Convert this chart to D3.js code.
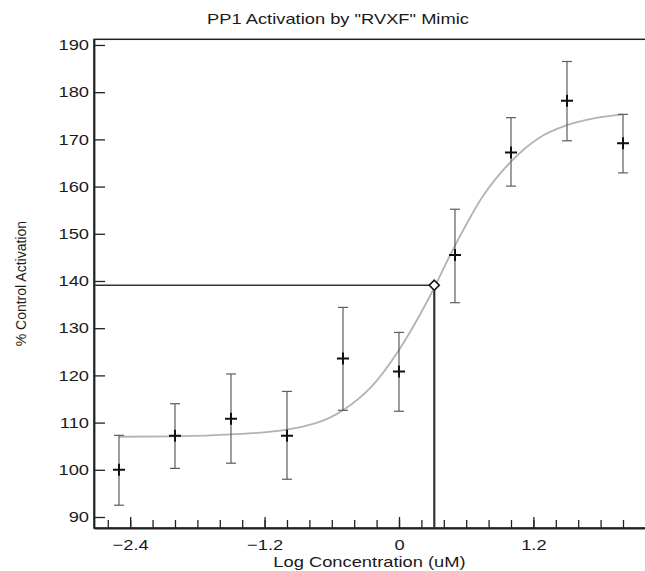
<!DOCTYPE html>
<html>
<head>
<meta charset="utf-8">
<script src="https://cdn.jsdelivr.net/npm/d3@7"></script>
<style>
    body { margin: 0; background: #fff; }
    text { font-family: "Liberation Sans", Arial, sans-serif; fill: #1a1a1a; }
</style>
</head>
<body>
<div id="graph"></div>
<script>
// data
const logConc = [-2.5, -2.0, -1.5, -1.0, -0.5, 0, 0.5, 1.0, 1.5, 2.0];
const activation = [100.0, 107.2, 110.8, 107.2, 123.6, 120.8, 145.5, 167.2, 178.2, 169.2];
const errUpper = [107.3, 114.0, 120.3, 116.6, 134.4, 129.1, 155.2, 174.6, 186.5, 175.3];
const errLower = [92.5, 100.3, 101.4, 98.0, 112.6, 112.4, 135.4, 160.1, 169.7, 162.9];

// fitted curve as drawn in the picture
const fitX = [-2.5, -2.0, -1.5, -1.0, -0.5, -0.25, 0, 0.25, 0.5, 0.75, 1.0, 1.25, 1.5, 1.75, 2.0];
const fitY = [107.0, 107.1, 107.5, 108.5, 112.6, 117.5, 125.4, 135.6, 147.5, 158.0, 165.3, 170.3, 173.0, 174.5, 175.3];

// marked point (EC50)
const ec50X = 0.315;
const ec50Y = 139.1;

const xTickLabels = [-2.4, -1.2, 0, 1.2];
const yTickLabels = [90, 100, 110, 120, 130, 140, 150, 160, 170, 180, 190];

const titleText = 'PP1 Activation by "RVXF" Mimic';
const xTitle = "Log Concentration (uM)";
const yTitle = "% Control Activation";

const width = 645;
const height = 571;
const margin = {top: 39.3, bottom: 43, left: 94, right: -5};
const stretchK = 1.22; // the reference text is a bit wide

const svg = d3.select("#graph")
    .append("svg")
    .attr("width", width)
    .attr("height", height);

const x = d3.scaleLinear()
    .domain([-2.723, 2.241])
    .range([margin.left, width - margin.right]);

const y = d3.scaleLinear()
    .domain([87.67, 191.2])
    .range([height - margin.bottom, margin.top]);

function stretch(sel, k) {
    sel.each(function () {
        const len = this.getComputedTextLength();
        d3.select(this)
            .attr("textLength", len * k)
            .attr("lengthAdjust", "spacingAndGlyphs");
    });
}

// frame
svg.append("rect")
    .attr("x", x.range()[0])
    .attr("y", y.range()[1])
    .attr("width", x.range()[1] - x.range()[0])
    .attr("height", y.range()[0] - y.range()[1])
    .attr("fill", "none")
    .attr("stroke", "#222")
    .attr("stroke-width", 1.5);

// minor x ticks every 0.2
const xMinor = d3.range(-26, 23, 2).map(d => d / 10);
svg.append("g")
    .attr("transform", `translate(0, ${y.range()[0]})`)
    .call(d3.axisBottom(x).tickValues(xMinor).tickSize(-8).tickSizeOuter(0).tickFormat(""))
    .call(g => g.select(".domain").remove())
    .call(g => g.selectAll("line").attr("stroke", "#222").attr("stroke-width", 1.3));

// x axis
const xAxis = svg.append("g")
    .attr("transform", `translate(0, ${y.range()[0]})`)
    .call(d3.axisBottom(x).tickValues(xTickLabels).tickSize(-11).tickSizeOuter(0).tickPadding(11)
        .tickFormat(d => d3.format("")(d)));
xAxis.select(".domain").attr("stroke", "#222").attr("stroke-width", 1.8);
xAxis.selectAll("line").attr("stroke", "#222").attr("stroke-width", 1.3);
xAxis.selectAll("text").attr("font-size", "15px").call(stretch, stretchK);

// y axis
const yAxis = svg.append("g")
    .attr("transform", `translate(${x.range()[0]}, 0)`)
    .call(d3.axisLeft(y).tickValues(yTickLabels).tickSize(-11).tickSizeOuter(0).tickPadding(5));
yAxis.select(".domain").attr("stroke", "#222").attr("stroke-width", 1.8);
yAxis.selectAll("line").attr("stroke", "#222").attr("stroke-width", 1.3);
yAxis.selectAll("text").attr("font-size", "15px").call(stretch, stretchK);

// EC50 guide lines
svg.append("line")
    .attr("x1", x.range()[0]).attr("x2", x(ec50X))
    .attr("y1", y(ec50Y)).attr("y2", y(ec50Y))
    .attr("stroke", "#333").attr("stroke-width", 1.5);
svg.append("line")
    .attr("x1", x(ec50X)).attr("x2", x(ec50X))
    .attr("y1", y(ec50Y)).attr("y2", y.range()[0])
    .attr("stroke", "#333").attr("stroke-width", 2.2);

// fitted curve
const fitData = fitX.map((d, i) => ({x: d, y: fitY[i]}));
svg.append("path")
    .datum(fitData)
    .attr("fill", "none")
    .attr("stroke", "#b3b3b3")
    .attr("stroke-width", 1.8)
    .attr("d", d3.line().x(d => x(d.x)).y(d => y(d.y)).curve(d3.curveMonotoneX));

// error bars
const points = logConc.map((d, i) => ({x: d, y: activation[i], hi: errUpper[i], lo: errLower[i]}));
const capW = 5;
const bars = svg.append("g")
    .attr("stroke", "#5c5c5c")
    .attr("stroke-width", 1.2)
    .selectAll("g")
    .data(points)
    .join("g");
bars.append("line")
    .attr("x1", d => x(d.x)).attr("x2", d => x(d.x))
    .attr("y1", d => y(d.hi)).attr("y2", d => y(d.lo));
bars.append("line")
    .attr("x1", d => x(d.x) - capW).attr("x2", d => x(d.x) + capW)
    .attr("y1", d => y(d.hi)).attr("y2", d => y(d.hi));
bars.append("line")
    .attr("x1", d => x(d.x) - capW).attr("x2", d => x(d.x) + capW)
    .attr("y1", d => y(d.lo)).attr("y2", d => y(d.lo));

// plus markers
const plusR = 6;
svg.append("g")
    .attr("stroke", "#111")
    .attr("stroke-width", 2)
    .selectAll("path")
    .data(points)
    .join("path")
    .attr("d", d => `M${x(d.x) - plusR},${y(d.y)}H${x(d.x) + plusR}M${x(d.x)},${y(d.y) - plusR}V${y(d.y) + plusR}`);

// EC50 diamond
svg.append("path")
    .attr("transform", `translate(${x(ec50X)}, ${y(ec50Y)})`)
    .attr("d", "M0,-5L5,0L0,5L-5,0Z")
    .attr("fill", "#fff")
    .attr("stroke", "#111")
    .attr("stroke-width", 1.6);

// titles
svg.append("text")
    .attr("x", 338)
    .attr("y", 24)
    .attr("text-anchor", "middle")
    .attr("font-size", "15px")
    .text(titleText)
    .call(stretch, stretchK);

svg.append("text")
    .attr("x", (x.range()[0] + 645) / 2)
    .attr("y", 567)
    .attr("text-anchor", "middle")
    .attr("font-size", "15px")
    .text(xTitle)
    .call(stretch, stretchK);

svg.append("text")
    .attr("transform", `translate(26, ${(y.range()[0] + y.range()[1]) / 2}) rotate(-90)`)
    .attr("text-anchor", "middle")
    .attr("font-size", "14px")
    .text(yTitle);
</script>
</body>
</html>
